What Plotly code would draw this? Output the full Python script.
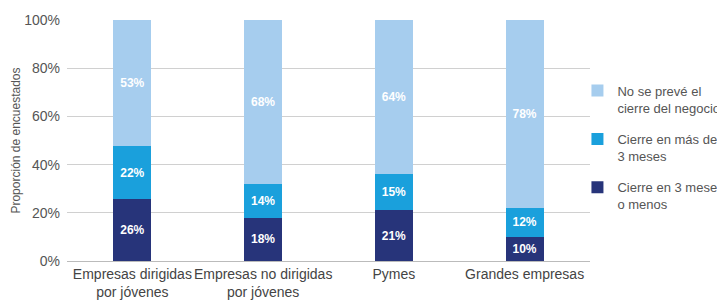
import plotly.graph_objects as go

categories = ["Empresas dirigidas<br>por jóvenes", "Empresas no dirigidas<br>por jóvenes", "Pymes", "Grandes empresas"]
cierre_3_menos = [26, 18, 21, 10]
cierre_mas_3 = [22, 14, 15, 12]
no_cierre = [53, 68, 64, 78]
series_names = ["Cierre en 3 meses<br>o menos", "Cierre en más de<br>3 meses", "No se prevé el<br>cierre del negocio"]
colors = ["#27347a", "#1aa0dc", "#a6cdee"]
tick_vals = [0, 20, 40, 60, 80, 100]
tick_text = ["0%", "20%", "40%", "60%", "80%", "100%"]

fig = go.Figure()
series = [cierre_3_menos, cierre_mas_3, no_cierre]
for i, (name, vals, col) in enumerate(zip(series_names, series, colors)):
    fig.add_trace(go.Bar(
        x=categories, y=vals, name=name, legendgroup=f"g{i}",
        legendrank=len(series) - i,
        marker=dict(color=col, line=dict(width=0)),
        text=[f"<b>{v}%</b>" for v in vals],
        textposition="inside", insidetextanchor="middle",
        textfont=dict(color="white", size=12, family="Liberation Sans, Arial, sans-serif"),
        hoverinfo="skip",
    ))

fig.update_layout(
    barmode="stack", barnorm="percent",
    bargap=0.71,
    width=717, height=293,
    margin=dict(l=59, r=135, t=12, b=40, autoexpand=False),
    paper_bgcolor="white", plot_bgcolor="white",
    font=dict(family="Liberation Sans, Arial, sans-serif", size=14, color="#555555"),
    showlegend=True,
    legend=dict(
        x=0.976, y=0.769, xanchor="left", yanchor="top",
        traceorder="grouped", valign="top",
        bgcolor="rgba(0,0,0,0)",
        font=dict(size=13, color="#555555"),
        itemwidth=30, tracegroupgap=11.5,
    ),
    uniformtext=dict(mode="show", minsize=12),
)
fig.update_xaxes(
    showgrid=False, showline=True, linecolor="#bbbbbb", linewidth=1,
    ticks="", tickangle=0, automargin=False,
    tickfont=dict(size=14, color="#444444"),
)
fig.update_yaxes(
    range=[0, 100], tickvals=tick_vals, ticktext=tick_text,
    showgrid=True, gridcolor="#d0d0d0", gridwidth=1,
    zeroline=False, ticks="", ticklabelstandoff=6, automargin=True,
    tickfont=dict(size=14, color="#555555"),
    title=dict(text="Proporción de encuestados", font=dict(size=12, color="#555555"), standoff=0),
)

fig.write_html("out.html")
